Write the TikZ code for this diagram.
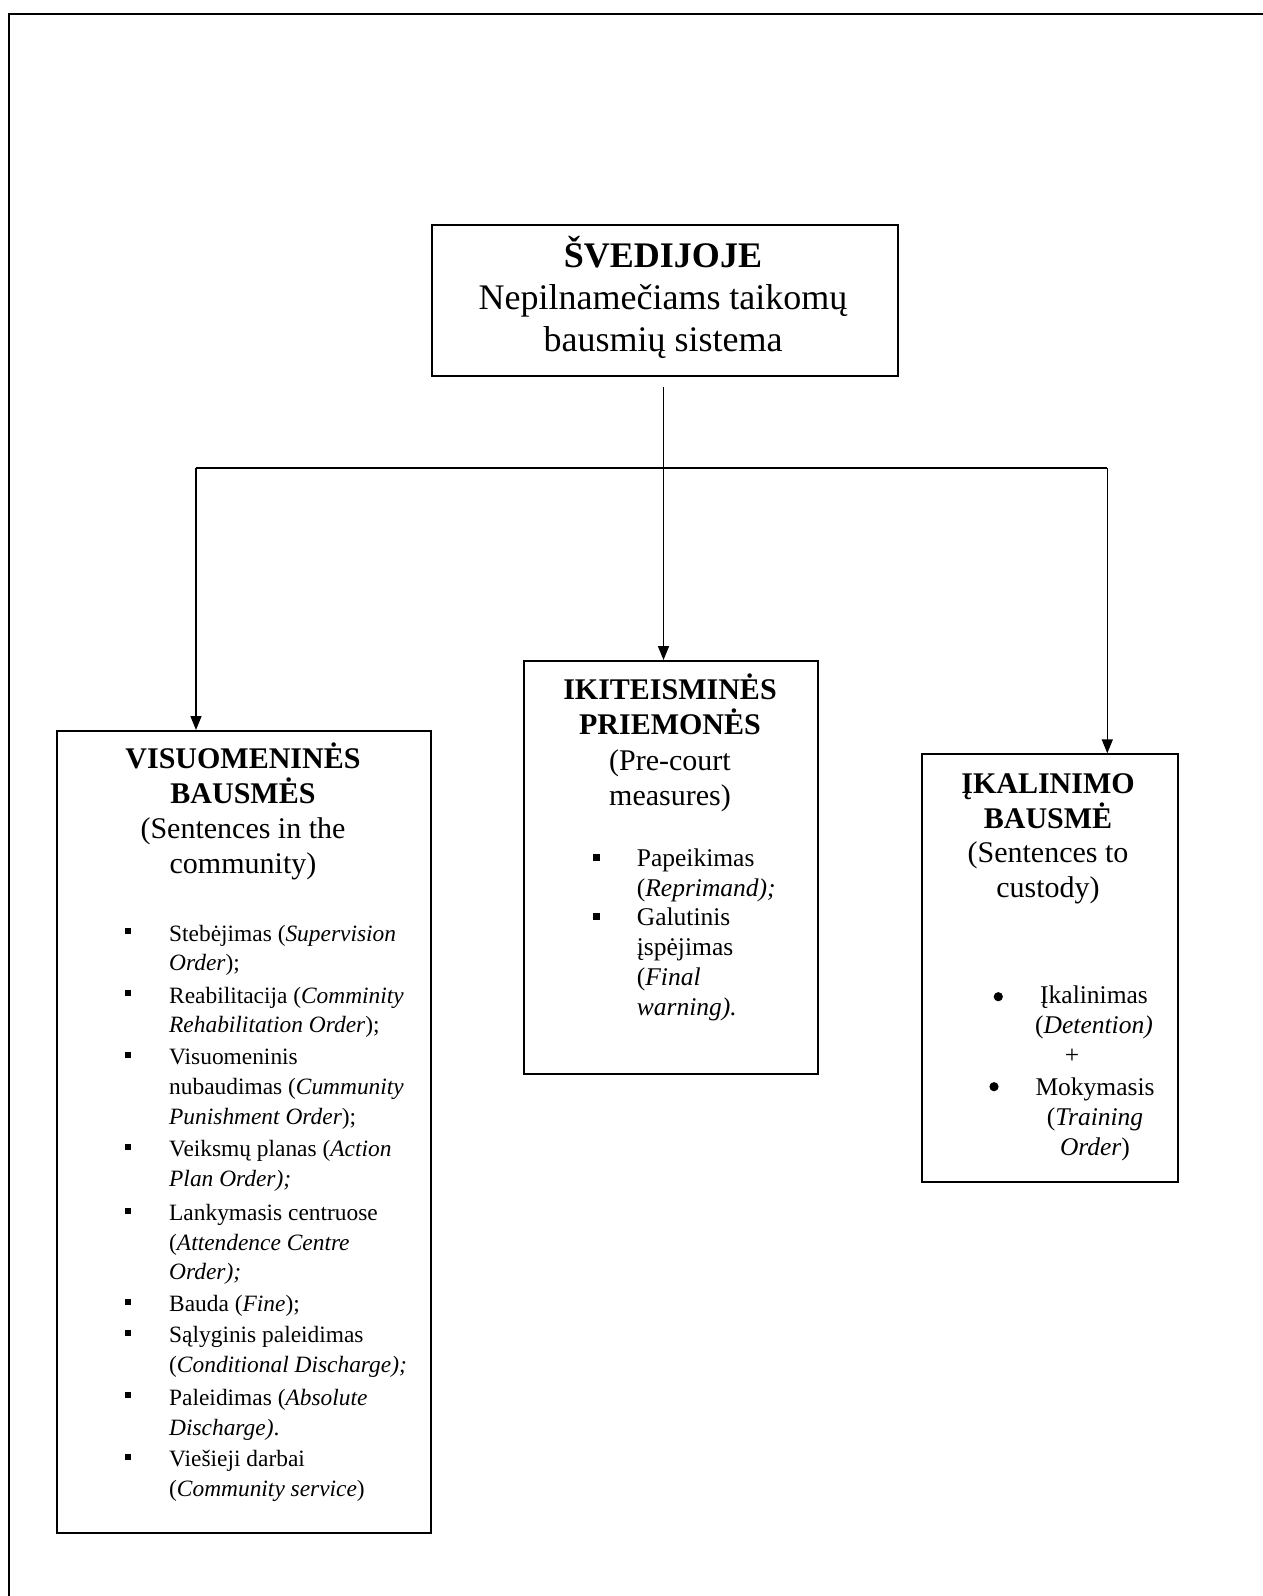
\documentclass[tikz,border=0pt]{standalone}
\usepackage{fontspec}
\setmainfont{Liberation Serif}
\usetikzlibrary{arrows.meta}
\tikzset{
  box/.style={draw, line width=2pt, inner sep=0pt, anchor=north west},
  conn/.style={line width=1.5pt},
  arr/.style={conn, -{Triangle[width=11pt,length=14pt]}},
  toptext/.style={inner sep=0pt, align=center, anchor=base, font=\fontsize{36}{41.6}\selectfont},
  head/.style={inner sep=0pt, align=center, anchor=base, font=\fontsize{30}{35}\selectfont},
  itemL/.style={inner sep=0pt, align=left, anchor=base west, font=\fontsize{23.4}{29.6}\selectfont},
  itemM/.style={inner sep=0pt, align=left, anchor=base west, font=\fontsize{25.5}{29.7}\selectfont},
  itemR/.style={inner sep=0pt, align=center, anchor=base, font=\fontsize{25.5}{30}\selectfont},
}
\begin{document}
\begin{tikzpicture}[x=1pt,y=-1pt]
\useasboundingbox (0,0) rectangle (1263,1596);
% frame (only top and left sides visible)
\draw[line width=2pt] (1263,14) -- (9,14) -- (9,1596);

% boxes
\node[box, minimum width=466pt, minimum height=151pt] (top) at (430.5,224) {};
\node[box, minimum width=374pt, minimum height=801.5pt] (left) at (56,730) {};
\node[box, minimum width=294pt, minimum height=413pt] (mid) at (523.3,660) {};
\node[box, minimum width=256pt, minimum height=428pt] (right) at (920.5,753.3) {};

% top text (anchored at the baseline of its last line)
\node[toptext] (toptxt) at (663,351) {\textbf{ŠVEDIJOJE}\\Nepilnamečiams taikomų\\bausmių sistema};

% connectors
\coordinate (cs) at (663.5,387);
\coordinate (jl) at (196,468);
\coordinate (jr) at (1107.3,468);
\draw[arr] (cs) -- (cs |- mid.north);
\draw[conn] (jl) -- (jr);
\draw[arr] (jl) -- (jl |- left.north);
\draw[arr] (jr) -- (jr |- right.north);

% headings (anchored at the baseline of the last line)
\node[head] (lhead) at (243,873.3) {\textbf{VISUOMENINĖS}\\\textbf{BAUSMĖS}\\(Sentences in the\\community)};
\node[head, font=\fontsize{30}{35.5}\selectfont] (mhead) at (670,805.7) {\textbf{IKITEISMINĖS}\\\textbf{PRIEMONĖS}\\(Pre-court\\measures)};
\node[head, font=\fontsize{30}{34.5}\selectfont] (rhead) at (1048,897.3) {\textbf{ĮKALINIMO}\\\textbf{BAUSMĖ}\\(Sentences to\\custody)};

% left list (anchored at the baseline of each item's last line)
\node[itemL] (L1) at (169,970.6) {Stebėjimas (\textit{Supervision}\\\textit{Order});};
\node[itemL] (L2) at (169,1032.6) {Reabilitacija (\textit{Comminity}\\\textit{Rehabilitation Order});};
\node[itemL] (L3) at (169,1124) {Visuomeninis\\nubaudimas (\textit{Cummunity}\\\textit{Punishment Order});};
\node[itemL] (L4) at (169,1186.5) {Veiksmų planas (\textit{Action}\\\textit{Plan Order);}};
\node[itemL] (L5) at (169,1279.8) {Lankymasis centruose\\(\textit{Attendence Centre}\\\textit{Order);}};
\node[itemL] (L6) at (169,1311.5) {Bauda (\textit{Fine});};
\node[itemL] (L7) at (169,1372.3) {Sąlyginis paleidimas\\(\textit{Conditional Discharge);}};
\node[itemL] (L8) at (169,1435) {Paleidimas (\textit{Absolute}\\\textit{Discharge)}.};
\node[itemL] (L9) at (169,1496.5) {Viešieji darbai\\(\textit{Community service})};
\foreach \y in {941,1003,1064.8,1156.9,1220.6,1311.5,1342.7,1405.4,1466.9}
  \fill (125,\y-7) rectangle (131,\y-13);

% middle list
\node[itemM] (M1) at (636.7,896.5) {Papeikimas\\(\textit{Reprimand);}};
\node[itemM] (M2) at (636.7,1015) {Galutinis\\įspėjimas\\(\textit{Final}\\\textit{warning).}};
\foreach \y in {866.8,925.9}
  \fill (592.5,\y-5.5) rectangle (599.5,\y-12.5);

% right list
\node[itemR] (R1) at (1094,1033.3) {Įkalinimas\\(\textit{Detention)}};
\node[itemR] (Rplus) at (1072,1063) {+};
\node[itemR] (R2) at (1095,1155) {Mokymasis\\(\textit{Training}\\\textit{Order})};
\fill (998.3,996.7) circle (4.6pt);
\fill (994,1086.7) circle (4.6pt);
\end{tikzpicture}
\end{document}
